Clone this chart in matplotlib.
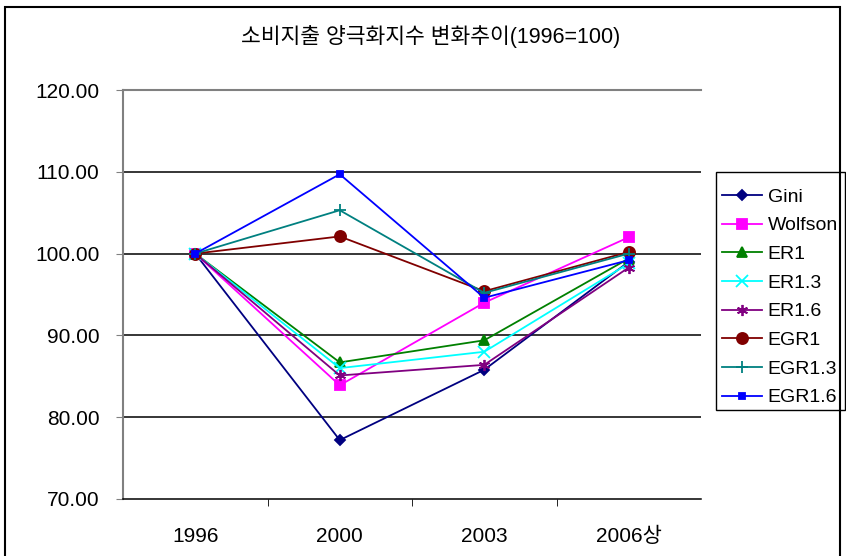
import matplotlib
matplotlib.use("Agg")
import matplotlib.pyplot as plt
from matplotlib.patches import Rectangle

plt.rcParams['font.family'] = ['Liberation Sans', 'Noto Sans CJK KR', 'DejaVu Sans']

categories = ["1996", "2000", "2003", "2006상"]
series_names = ["Gini", "Wolfson", "ER1", "ER1.3", "ER1.6", "EGR1", "EGR1.3", "EGR1.6"]
gini = [100, 77.2, 85.8, 99.0]
wolfson = [100, 83.9, 94.0, 102.0]
er1 = [100, 86.7, 89.4, 99.4]
er13 = [100, 86.0, 88.0, 98.8]
er16 = [100, 85.1, 86.4, 98.3]
egr1 = [100, 102.1, 95.4, 100.2]
egr13 = [100, 105.3, 95.2, 100.0]
egr16 = [100, 109.7, 94.6, 99.2]
yticks = [70, 80, 90, 100, 110, 120]
title = "소비지출 양극화지수 변화추이(1996=100)"

data = [gini, wolfson, er1, er13, er16, egr1, egr13, egr16]
colors = ["#000080", "#FF00FF", "#008000", "#00FFFF", "#800080", "#800000", "#008080", "#0000FF"]
markers = ["D", "s", "^", "x", (6, 2, 0), "o", "+", "s"]
msizes = [5, 7, 7, 8, 8, 8, 9, 4]

W, H = 846, 556
fig = plt.figure(figsize=(W / 100, H / 100), dpi=100)
fig.patch.set_facecolor("white")
fig.add_artist(Rectangle((5 / W, -0.01), (W - 6) / W - 5 / W, 1 - 7 / H + 0.01,
                         transform=fig.transFigure, fill=False, edgecolor="black", lw=1.5))

left, right, top, bottom = 123, 701, 90, 499
ax = fig.add_axes([left / W, 1 - bottom / H, (right - left) / W, (bottom - top) / H])
x = list(range(len(categories)))
for name, vals, c, m, ms in zip(series_names, data, colors, markers, msizes):
    ax.plot(x, vals, color=c, marker=m, markersize=ms, lw=1.3, label=name,
            markeredgecolor=c, markerfacecolor=c, markeredgewidth=1.3)

ax.set_xlim(-0.5, 3.5)
ax.set_ylim(70, 120)
ax.set_yticks(yticks)
ax.set_yticklabels([f"{v:.2f}" for v in yticks], fontsize=15)
ax.set_xticks(x)
ax.set_xticklabels(categories, fontsize=15)
ax.set_xticks([0.5, 1.5, 2.5], minor=True)
ax.tick_params(axis='x', which='major', length=0, pad=20)
ax.tick_params(axis='x', which='minor', length=5, color="black")
ax.tick_params(axis='y', length=5, color="#808080", pad=12)
for v in [80, 90, 100, 110]:
    ax.axhline(v, color="black", lw=1.1, zorder=0.5)
for s in ['left', 'top', 'right']:
    ax.spines[s].set_color("#808080")
    ax.spines[s].set_linewidth(1.5)
ax.spines['right'].set_visible(False)
ax.spines['bottom'].set_color("black")
ax.spines['bottom'].set_linewidth(1.1)

fig.text(431 / W, 1 - 36 / H, title, ha="center", va="center", fontsize=15.5)

# legend frame
fig.add_artist(Rectangle((716 / W, 1 - 410 / H), (845 - 716) / W, (410 - 172) / H,
                         transform=fig.transFigure, fill=False, edgecolor="black", lw=1.0))
leg = ax.legend(loc="upper left", bbox_to_anchor=(722 / W, 1 - 188 / H),
                bbox_transform=fig.transFigure, fontsize=14, frameon=False,
                borderpad=0, labelspacing=0.57,
                handlelength=2.05, handletextpad=0.3, borderaxespad=0)

fig.savefig("out.png", dpi=100)
